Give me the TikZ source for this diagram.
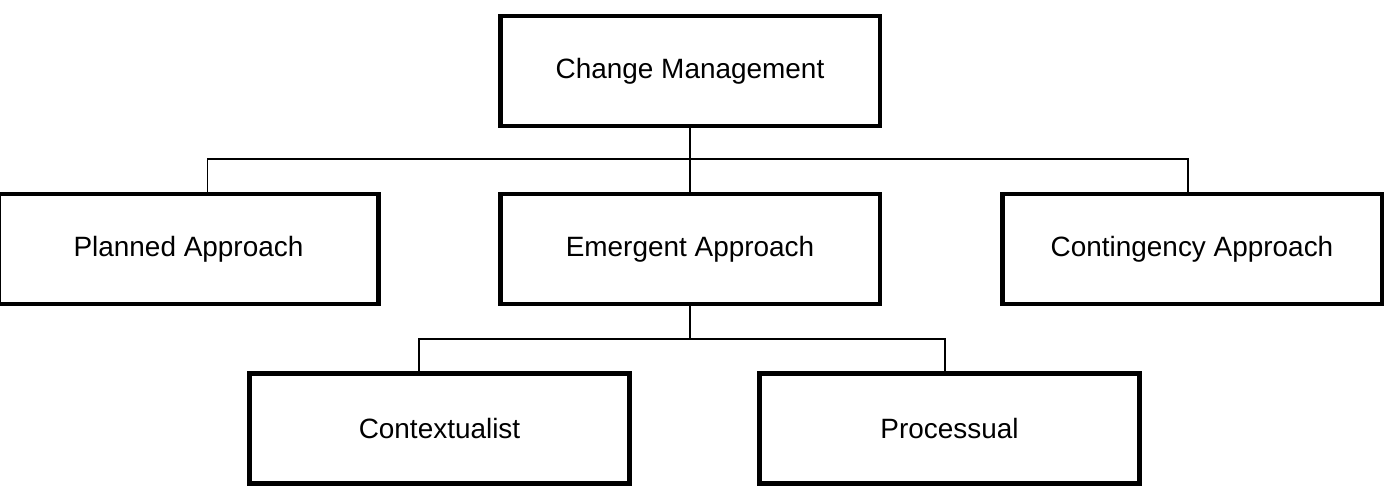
\documentclass[tikz,border=0pt]{standalone}
\usepackage{fontspec}
\setmainfont{Liberation Sans}
\usepackage{tikz}
\usetikzlibrary{positioning}

\begin{document}
\begin{tikzpicture}[x=0.02cm,y=-0.02cm,
    box/.style={draw,line width=2.8pt,minimum width=7.6cm,minimum height=2.2cm,
      inner sep=0pt,font=\fontsize{15.9}{19}\selectfont},
    link/.style={line width=1.1pt}]
      \useasboundingbox (0,0) rectangle (1388,491);
      % top level
      \node[box] (cm) at (690,71) {Change Management};
      % approaches
      \node[box] (plan) at (188.5,249) {Planned Approach};
      \node[box] (em) at (690,249) {Emergent Approach};
      \node[box] (cont) at (1192,249) {Contingency Approach};
      % emergent schools
      \node[box] (ctx) at (439.5,428.5) {Contextualist};
      \node[box] (proc) at (949.5,428.5) {Processual};
      % connectors
      \coordinate (bus) at (690,159);
      \coordinate (bus2) at (690,339);
      \draw[link] (cm.south) -- (em.north);
      \draw[link] ([xshift=0.38cm]plan.north) |- (bus) -| ([xshift=-0.08cm]cont.north);
      \draw[link] (em.south) -- (bus2);
      \draw[link] ([xshift=-0.41cm]ctx.north) |- (bus2) -| ([xshift=-0.09cm]proc.north);
  \end{tikzpicture}
\end{document}
